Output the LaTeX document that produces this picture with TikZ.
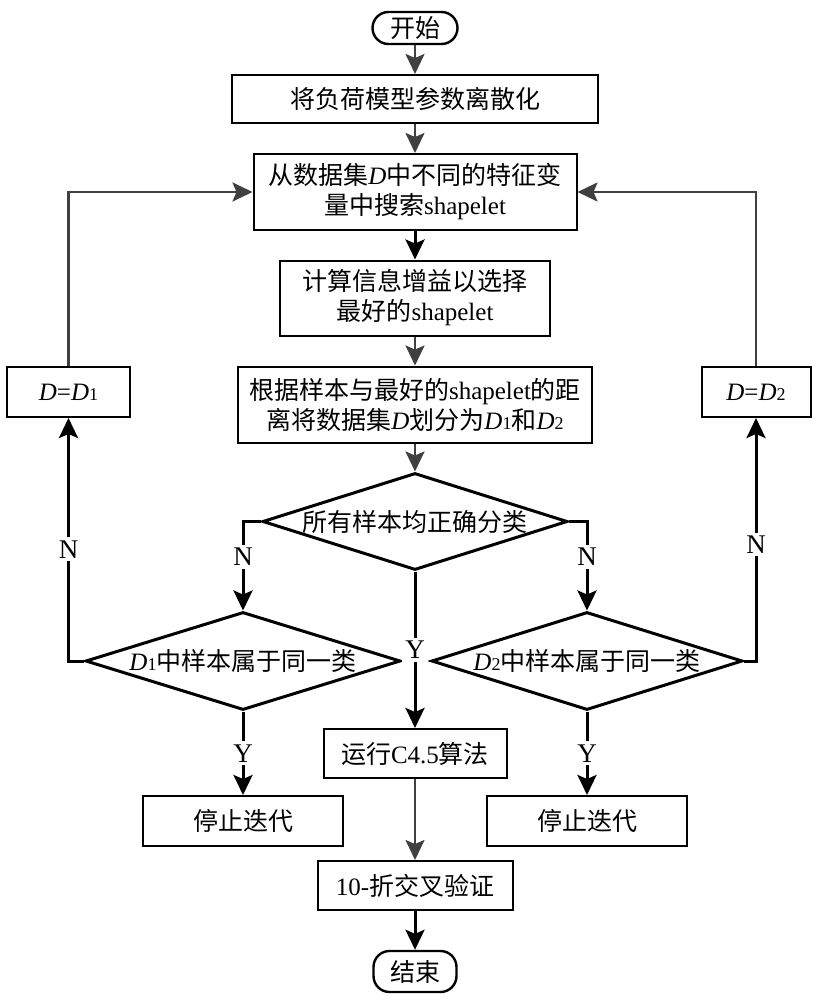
\documentclass[tikz,border=0pt]{standalone}
\usepackage{fontspec}
\setmainfont{Liberation Serif}
\newfontfamily\zhfont{Noto Sans CJK SC}
\usepackage{tikz}
\usetikzlibrary{shapes.geometric,arrows.meta}
\newcommand{\zh}[1]{{\zhfont #1}}
\newcommand{\dsub}[1]{\textit{D}{\fontsize{9}{9}\selectfont #1}}

\begin{document}
\begin{tikzpicture}[x=0.5pt,y=-0.5pt,
  every node/.style={font=\fontsize{12.5}{15}\selectfont},
  box/.style={draw,line width=1pt,inner sep=0pt,align=center},
  term/.style={draw,line width=1.2pt,rounded corners=8pt,inner sep=0pt},
  decision/.style={draw,diamond,line width=1.5pt,aspect=3.1,inner sep=0pt},
  flow/.style={line width=1.2pt,color=black!75,-{Stealth[length=10pt,width=9.5pt,inset=2pt]}},
  flowb/.style={line width=1.5pt,-{Stealth[length=10pt,width=9.5pt,inset=2pt]}},
  lab/.style={fill=white,inner sep=1.5pt,font=\fontsize{13.5}{15}\selectfont}]
  \useasboundingbox (0,0) rectangle (820,1000);

  \node[term,minimum width=42.5pt,minimum height=16pt] (start) at (415,28) {\zh{开始}};
  \node[box,minimum width=183pt,minimum height=24pt] (prep) at (415,99) {\zh{将负荷模型参数离散化}};
  \node[box,minimum width=161.5pt,minimum height=38pt] (search) at (415,192) {\zh{从数据集}\textit{D}\zh{中不同的特征变}\\\zh{量中搜索}shapelet};
  \node[box,minimum width=135pt,minimum height=37.5pt] (gain) at (415,298) {\zh{计算信息增益以选择}\\\zh{最好的}shapelet};
  \node[box,minimum width=177pt,minimum height=38pt] (split) at (415,404.5) {\zh{根据样本与最好的}shapelet\zh{的距}\\\zh{离将数据集}\textit{D}\zh{划分为}\dsub{1}\zh{和}\dsub{2}};
  \node[decision,minimum width=152.5pt,minimum height=48.5pt] (check) at (415,521.5) {\zh{所有样本均正确分类}};
  \node[decision,minimum width=157.5pt,minimum height=49pt] (same1) at (243,661) {\dsub{1}\zh{中样本属于同一类}};
  \node[decision,minimum width=155.5pt,minimum height=49pt] (same2) at (587,661) {\dsub{2}\zh{中样本属于同一类}};
  \node[box,minimum width=61.5pt,minimum height=25pt] (set1) at (68.5,392) {\textit{D}=\dsub{1}};
  \node[box,minimum width=54.5pt,minimum height=25pt] (set2) at (756,392) {\textit{D}=\dsub{2}};
  \node[box,minimum width=91.5pt,minimum height=24.5pt] (run) at (415,753.5) {\zh{运行}C4.5\zh{算法}};
  \node[box,minimum width=100pt,minimum height=25pt] (stop1) at (243,821) {\zh{停止迭代}};
  \node[box,minimum width=100pt,minimum height=25pt] (stop2) at (587,821) {\zh{停止迭代}};
  \node[box,minimum width=97.5pt,minimum height=24.5pt] (cv) at (415,885.5) {10-\zh{折交叉验证}};
  \node[term,minimum width=41.5pt,minimum height=20.5pt] (end) at (415,971.5) {\zh{结束}};

  \draw[flow] (start) -- (prep);
  \draw[flow] (prep) -- (search);
  \draw[flowb] (search) -- (gain);
  \draw[flow] (gain) -- (split);
  \draw[flow] (split) -- (check);
  \draw[flowb] (check.west) -| node[lab,pos=0.7] {N} (same1.north);
  \draw[flowb] (check.east) -| node[lab,pos=0.7] {N} (same2.north);
  \draw[flowb] (check.south) -- node[lab] {Y} (run.north);
  \draw[flowb] (same1.south) -- node[lab] {Y} (stop1.north);
  \draw[flowb] (same2.south) -- node[lab] {Y} (stop2.north);
  \draw[flowb] (same1.west) -| node[lab,pos=0.73] {N} (set1.south);
  \draw[flowb] (same2.east) -| node[lab,pos=0.74] {N} (set2.south);
  \draw[flow] (set1.north) |- (search.west);
  \draw[flow] (set2.north) |- (search.east);
  \draw[flow] (run) -- (cv);
  \draw[flowb] (cv) -- (end);
\end{tikzpicture}
\end{document}
